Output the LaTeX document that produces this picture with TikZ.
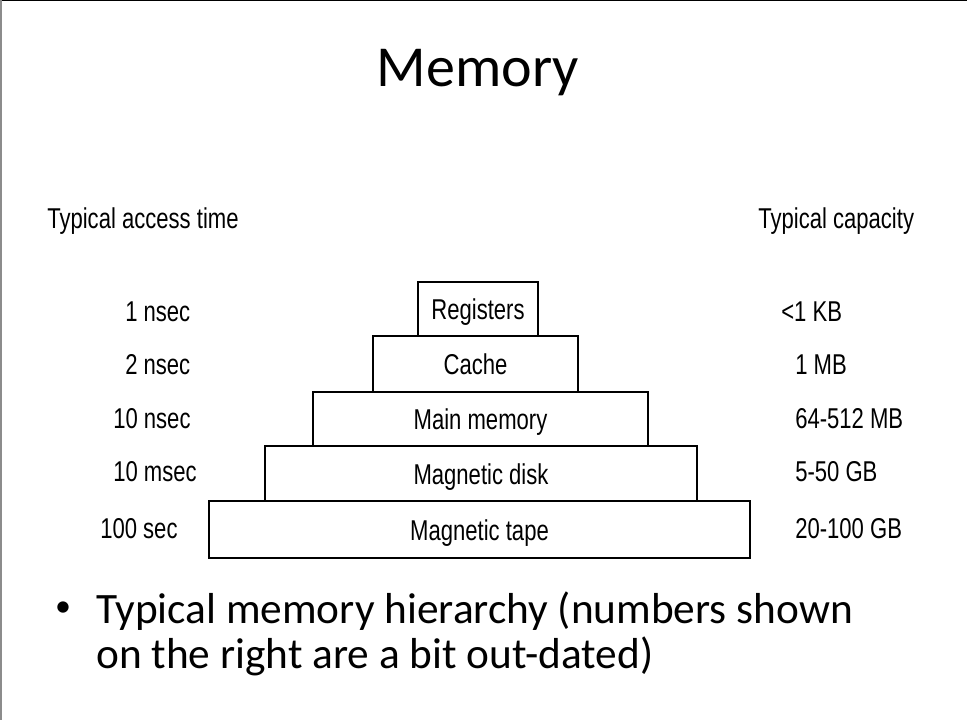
\documentclass[tikz,border=0pt]{standalone}
\usepackage{fontspec}
\setmainfont{Carlito}
\newfontfamily\diagfont[FakeStretch=0.77]{Liberation Sans}
\begin{document}
\begin{tikzpicture}[x=0.75pt,y=-0.75pt,
  level/.style={draw=black, line width=1.5pt, inner sep=0pt,
    font=\diagfont\fontsize{21.5}{26}\selectfont,
    text height=18pt, text depth=2pt},
  lbl/.style={inner sep=0pt, font=\diagfont\fontsize{21.5}{26}\selectfont},
  slidetext/.style={inner sep=0pt, font=\fontsize{32.5}{38}\selectfont}]
\useasboundingbox (0,0) rectangle (967,720);
% window edges
\fill[black] (0,0) rectangle (967,1.5);
\fill[black!45] (0,0) rectangle (2,720);

% title
\node[inner sep=0pt, anchor=base, font=\fontsize{43.5}{50}\selectfont] (title) at (478,87) {Memory};

% column headers
\node[lbl, anchor=base west] (hleft) at (47,229) {Typical access time};
\node[lbl, anchor=base west] (hright) at (758,229) {Typical capacity};

% the hierarchy
\node[level, minimum width={120*0.75pt}, minimum height={54*0.75pt}] (reg) at (478,309) {Registers};
\node[level, minimum width={205*0.75pt}, minimum height={56*0.75pt}] (cache) at (475.5,364) {Cache};
\node[level, minimum width={335*0.75pt}, minimum height={54*0.75pt}] (main) at (480.5,419) {Main memory};
\node[level, minimum width={432*0.75pt}, minimum height={55*0.75pt}] (disk) at (481,473.5) {Magnetic disk};
\node[level, minimum width={541*0.75pt}, minimum height={57*0.75pt}] (tape) at (479.5,529.5) {Magnetic tape};

% access times
\node[lbl, anchor=base west] (t1) at (125,321) {1 nsec};
\node[lbl, anchor=base west] (t2) at (125,374) {2 nsec};
\node[lbl, anchor=base west] (t3) at (113,428) {10 nsec};
\node[lbl, anchor=base west] (t4) at (113,481) {10 msec};
\node[lbl, anchor=base west] (t5) at (100,538) {100 sec};

% capacities
\node[lbl, anchor=base west] (c1) at (781,321) {<1 KB};
\node[lbl, anchor=base west] (c2) at (795,374) {1 MB};
\node[lbl, anchor=base west] (c3) at (795,428) {64-512 MB};
\node[lbl, anchor=base west] (c4) at (795,481) {5-50 GB};
\node[lbl, anchor=base west] (c5) at (795,538) {20-100 GB};

% bullet point
\node[inner sep=0pt, anchor=center, font=\fontsize{24}{28}\selectfont] (dot) at (63,609) {•};
\node[slidetext, anchor=base west] (line1) at (96,623) {Typical memory hierarchy (numbers shown};
\node[slidetext, anchor=base west] (line2) at (96,668) {on the right are a bit out-dated)};
\end{tikzpicture}
\end{document}
